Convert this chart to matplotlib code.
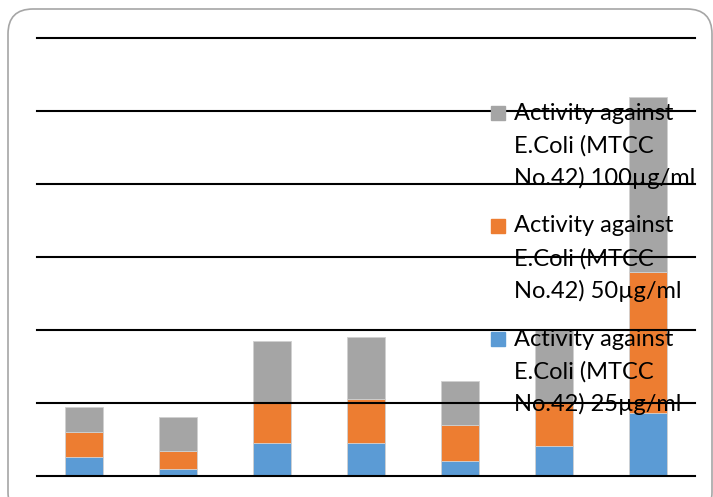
import numpy as np
import matplotlib.pyplot as plt
from matplotlib.patches import FancyBboxPatch, Rectangle
from matplotlib.transforms import IdentityTransform

# zone of activity per sample, stacked by concentration
samples = ['1', '2', '3', '4', '5', '6', '7']
act_25 = [1.28, 0.50, 2.28, 2.28, 1.03, 2.03, 4.29]
act_50 = [1.71, 1.23, 2.74, 2.97, 2.49, 2.97, 9.70]
act_100 = [1.77, 2.29, 4.25, 4.27, 2.97, 5.07, 11.99]

labels = ['Activity against\nE.Coli (MTCC\nNo.42) 25\u00b5g/ml',
          'Activity against\nE.Coli (MTCC\nNo.42) 50\u00b5g/ml',
          'Activity against\nE.Coli (MTCC\nNo.42) 100\u00b5g/ml']
bar_colors = ['#5B9BD5', '#ED7D31', '#A5A5A5']
yticks = [0, 5, 10, 15, 20, 25, 30]

fig = plt.figure(figsize=(7.13, 4.97), dpi=100)
ax = fig.add_axes([37/713, 21/497, 658/713, 438/497])

x = np.arange(len(samples))
bottom = np.zeros(len(samples))
for vals, c in zip([act_25, act_50, act_100], bar_colors):
    ax.bar(x, vals, 0.4, bottom=bottom, color=c, edgecolor='#d0d0d0', linewidth=0.6, zorder=2)
    bottom += np.array(vals)

ax.set_xlim(-0.5, 6.5)
ax.set_ylim(0, 30)
for y in yticks:
    ax.axhline(y, color='black', linewidth=1.5, zorder=6, clip_on=False)
ax.set_xticks([])
ax.set_yticks([])
for s in ax.spines.values():
    s.set_visible(False)

# legend drawn by hand: square on the first line, gridlines pass over it
font = dict(family=['Lato', 'DejaVu Sans'], fontsize=17, color='black')
H = 497
for i, (lab, c) in enumerate(zip(labels[::-1], bar_colors[::-1])):
    y0 = 113 + i * 113
    fig.patches.append(Rectangle((491/713, (H - y0 - 7)/H), 14/713, 14/H,
                                 transform=fig.transFigure, color=c, zorder=3))
    for j, line in enumerate(lab.split('\n')):
        fig.text(514/713, (H - y0 - j*32.5)/H, line, va='center', ha='left',
                 zorder=3, **font)

# rounded frame around the chart
frame = FancyBboxPatch((8, -20), 704, H - 9 + 20, boxstyle='round,pad=0,rounding_size=25',
                       transform=IdentityTransform(), facecolor='none',
                       edgecolor='#a6a6a6', linewidth=1.2)
fig.patches.append(frame)

fig.savefig('out.png', dpi=100)
